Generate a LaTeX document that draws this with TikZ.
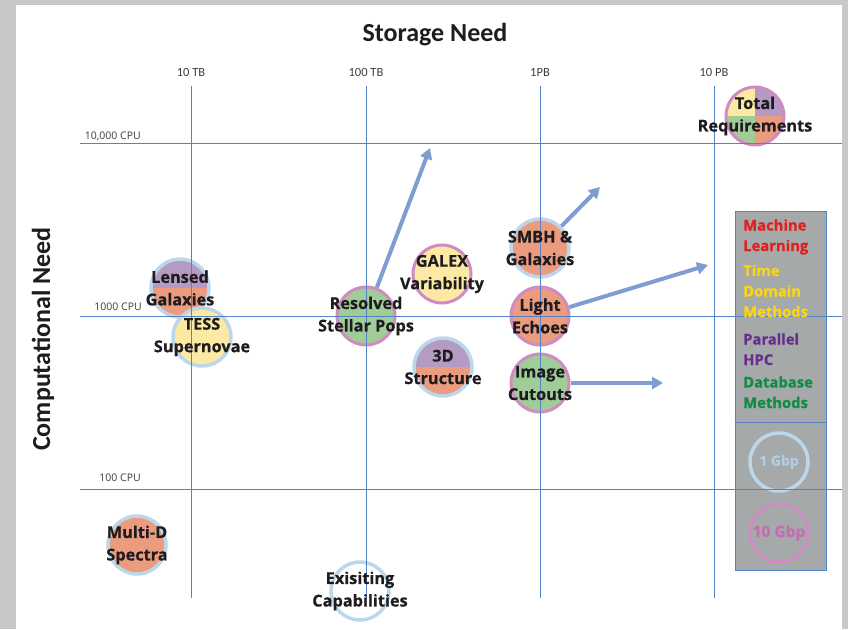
\documentclass[tikz,border=0pt]{standalone}
\usepackage{fontspec}
\setmainfont{Open Sans}[BoldFeatures={FakeBold=0.6}]
\newfontfamily\calibri{Carlito}
\newfontfamily\opensans{Open Sans}
\usepackage{tikz}
\usetikzlibrary{arrows.meta,positioning}

\definecolor{framegray}{RGB}{200,200,200}
\definecolor{gridblue}{RGB}{84,130,196}
\definecolor{arrowblue}{RGB}{127,157,208}
\definecolor{fillorange}{RGB}{236,156,126}
\definecolor{fillpurple}{RGB}{181,155,195}
\definecolor{fillyellow}{RGB}{252,233,164}
\definecolor{fillgreen}{RGB}{160,204,152}
\definecolor{ringpink}{RGB}{208,139,194}
\definecolor{ringblue}{RGB}{189,215,234}
\definecolor{keygray}{RGB}{166,169,169}
\definecolor{inkblack}{RGB}{30,28,30}
\definecolor{mlred}{RGB}{224,32,28}
\definecolor{tdyellow}{RGB}{250,214,20}
\definecolor{hpcpurple}{RGB}{102,45,140}
\definecolor{dbgreen}{RGB}{16,140,70}
\definecolor{gbpblue}{RGB}{176,205,230}
\definecolor{gbppink}{RGB}{196,108,180}

\tikzset{
  bubble/.style={circle,minimum size=58pt,inner sep=0pt,line width=3.5pt},
  pinkring/.style={draw=ringpink,line width=3pt},
  bluering/.style={draw=ringblue},
  halves/.style={path picture={
      \fill[fillpurple] (path picture bounding box.north west) rectangle (path picture bounding box.east);
      \fill[fillorange] (path picture bounding box.south west) rectangle (path picture bounding box.east);}},
  quads/.style={path picture={
      \fill[fillyellow] (path picture bounding box.north west) rectangle (path picture bounding box.center);
      \fill[fillpurple] (path picture bounding box.north east) rectangle (path picture bounding box.center);
      \fill[fillgreen] (path picture bounding box.south west) rectangle (path picture bounding box.center);
      \fill[fillorange] (path picture bounding box.south east) rectangle (path picture bounding box.center);}},
  bubbletext/.style={align=center,inner sep=0pt,text=inkblack,font=\fontsize{16.3}{22.5}\selectfont\bfseries},
  gridline/.style={gridblue,line width=1pt},
  growth/.style={arrowblue,line width=4pt,-{Triangle[length=11pt,width=12pt]}},
  ticklabel/.style={anchor=base,text=inkblack!85,inner sep=0pt,font=\calibri\fontsize{12.5}{14}\selectfont},
  cpulabel/.style={anchor=base east,text=inkblack!85,inner sep=0pt,font=\opensans\fontsize{10.5}{12}\selectfont},
  axistitle/.style={anchor=base,text=inkblack,inner sep=0pt,font=\calibri\bfseries\fontsize{26}{30}\selectfont},
  keytext/.style={anchor=base west,align=left,inner sep=0pt,font=\fontsize{14.8}{20.5}\selectfont\bfseries}
}

\begin{document}
\begin{tikzpicture}[x=1pt,y=-1pt]
\useasboundingbox (0,0) rectangle (848,629);
\fill[framegray] (0,0) rectangle (848,629);
\fill[white] (16,5) rectangle (842,629);

% bubbles
\node[bubble,quads,pinkring] (total) at (755,116) {};
\node[bubble,halves,bluering] (lensed) at (180,288) {};
\node[bubble,fill=fillyellow,bluering] (tess) at (202,337) {};
\node[bubble,fill=fillgreen,pinkring] (resolved) at (366,316) {};
\node[bubble,fill=fillyellow,pinkring] (galex) at (442,274) {};
\node[bubble,halves,bluering] (structure) at (443,367) {};
\node[bubble,fill=fillorange,bluering] (smbh) at (540,248) {};
\node[bubble,fill=fillorange,pinkring] (echoes) at (540,316) {};
\node[bubble,fill=fillgreen,pinkring] (cutouts) at (540,383) {};
\node[bubble,fill=fillorange,bluering] (spectra) at (137,545) {};
\node[bubble,fill=white,bluering] (existing) at (360,591) {};

% key
\node[rectangle,draw=gridblue,line width=0.8pt,fill=keygray,minimum width=91pt,minimum height=359pt,inner sep=0pt] (key) at (780.5,391) {};
\coordinate (keySplit) at (780,422);
\draw[gridblue,line width=0.8pt] (key.west |- keySplit) -- (key.east |- keySplit);
\node[bubble,bluering] (oneGbp) at (779,462) {};
\node[bubble,pinkring] (tenGbp) at (779,533) {};

% grid
\draw[gridline] (80,143) -- (842,143);
\draw[gridline] (80,316) -- (842,316);
\draw[gridline] (80,489) -- (842,489);
\draw[gridline] (191,86) -- (191,598);
\draw[gridline] (366,86) -- (366,598);
\draw[gridline] (540,86) -- (540,598);
\draw[gridline] (714,86) -- (714,598);
\node[ticklabel] (tenTB) at (191,76) {10 TB};
\node[ticklabel] (hundredTB) at (366,76) {100 TB};
\node[ticklabel] (onePB) at (540,76) {1PB};
\node[ticklabel] (tenPB) at (714,76) {10 PB};
\node[cpulabel] (cpuHigh) at (141,139) {10,000 CPU};
\node[cpulabel] (cpuMid) at (142,310) {1000 CPU};
\node[cpulabel] (cpuLow) at (141,481) {100 CPU};

% growth arrows
\coordinate (resolvedTip) at (430,148);
\coordinate (smbhTip) at (600,187);
\coordinate (echoesTip) at (708,265);
\coordinate (cutoutsTip) at (663,383);
\draw[growth] (resolved) -- (resolvedTip);
\draw[growth] (smbh) -- (smbhTip);
\draw[growth] (echoes) -- (echoesTip);
\draw[growth] (cutouts) -- (cutoutsTip);

% labels
\node[bubbletext] (totalText) at (total) {Total\\Requirements};
\node[bubbletext] (lensedText) at (lensed) {Lensed\\Galaxies};
\node[bubbletext] (tessText) at (tess) {TESS\\Supernovae};
\node[bubbletext] (resolvedText) at (resolved) {Resolved\\Stellar Pops};
\node[bubbletext] (galexText) at (galex) {GALEX\\Variability};
\node[bubbletext] (structureText) at (structure) {3D\\Structure};
\node[bubbletext] (smbhText) at (smbh) {SMBH \&\\Galaxies};
\node[bubbletext] (echoesText) at (echoes) {Light\\Echoes};
\node[bubbletext] (cutoutsText) at (cutouts) {Image\\Cutouts};
\node[bubbletext] (spectraText) at (spectra) {Multi-D\\Spectra};
\node[bubbletext] (existingText) at (existing) {Exisiting\\Capabilities};

\node[keytext,mlred] (mlKey) at (743,251) {Machine\\Learning};
\node[keytext,tdyellow] (tdKey) at (743,317) {Time\\Domain\\Methods};
\node[keytext,hpcpurple] (hpcKey) at (743,365) {Parallel\\HPC};
\node[keytext,dbgreen] (dbKey) at (743,408) {Database\\Methods};
\node[bubbletext,gbpblue,font=\fontsize{14}{18}\selectfont\bfseries] (oneGbpText) at (oneGbp) {1 Gbp};
\node[bubbletext,gbppink,font=\fontsize{15.5}{18}\selectfont\bfseries] (tenGbpText) at (tenGbp) {10 Gbp};

\node[axistitle] (storageTitle) at (435,41) {Storage Need};
\node[axistitle,rotate=90,anchor=center] (computeTitle) at (43,339) {Computational Need};
\end{tikzpicture}
\end{document}
